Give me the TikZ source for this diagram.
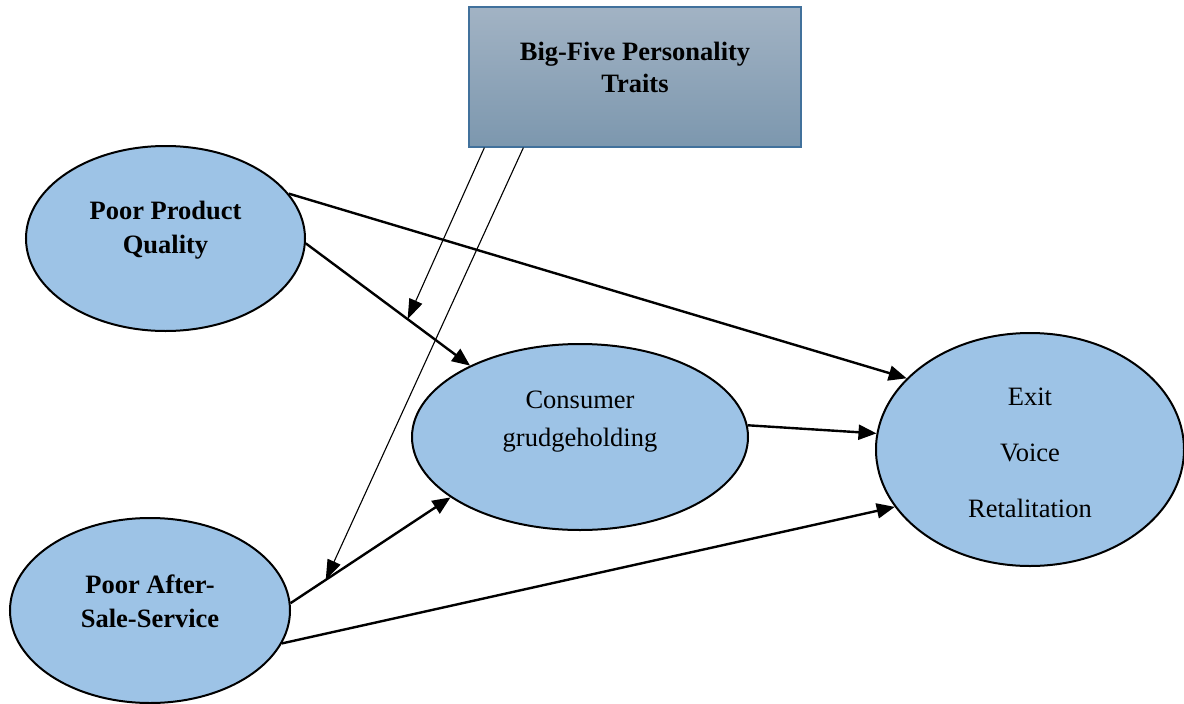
\documentclass[tikz,border=0pt]{standalone}
\usepackage{fontspec}
\setmainfont{Liberation Serif}
\usetikzlibrary{arrows.meta,shapes.geometric}
\definecolor{blobblue}{HTML}{9DC3E6}
\definecolor{boxtop}{HTML}{A2B3C4}
\definecolor{boxbot}{HTML}{7C97AE}
\definecolor{boxline}{HTML}{41719C}
\newcommand{\bigfont}[1]{\fontsize{26.5}{#1}\selectfont}

\begin{document}
\begin{tikzpicture}[x=1pt,y=-1pt,
  blob/.style={ellipse,draw=black,line width=2pt,fill=blobblue,inner sep=0pt},
  pbox/.style={rectangle,draw=boxline,line width=1.2pt,top color=boxtop,bottom color=boxbot,
    minimum width=332pt,minimum height=140pt,inner sep=0pt},
  lbl/.style={align=center},
  link/.style={-{Triangle[length=18pt,width=15pt]},line width=2.4pt},
  mod/.style={-{Triangle[length=20pt,width=14pt]},line width=1.1pt}]
\useasboundingbox (0,0) rectangle (1184,704);
% \draw[help lines,step=100] (0,0) grid (1184,704);
\node (bf) [pbox] at (635,77)
  [label={[lbl,font=\bigfont{32}\bfseries,yshift=10pt]center:{Big-Five Personality\\Traits}}] {};
\node (ppq) [blob,minimum width=279pt,minimum height=185pt] at (165.5,238.5)
  [label={[lbl,font=\bigfont{34}\bfseries,yshift=8pt]center:{Poor Product\\Quality}}] {};
\node (pass) [blob,minimum width=280pt,minimum height=185pt] at (150,610.5)
  [label={[lbl,font=\bigfont{34}\bfseries,yshift=9.5pt]center:{Poor After-\\Sale-Service}}] {};
\node (cg) [blob,minimum width=336pt,minimum height=186pt] at (580,437)
  [label={[lbl,font=\bigfont{38},yshift=15pt]center:{Consumer\\grudgeholding}}] {};
\node (exit) [blob,minimum width=308pt,minimum height=233pt] at (1030,449.5)
  [label={[lbl,font=\bigfont{56},yshift=-3.5pt]center:{Exit\\Voice\\Retalitation}}] {};
%
\draw[link] (ppq.20) -- (exit.150);
\draw[link] (ppq.358) -- coordinate[pos=0.62] (m1) (cg.147);
\draw[link] (cg.4) -- (exit.174);
\draw[link] (pass.346) -- (exit.203);
\draw[link] (pass.3) -- coordinate[pos=0.22] (m2) (cg.205);
%
\draw[mod] ([xshift=16pt]bf.south west) -- (m1);
\draw[mod] ([xshift=55pt]bf.south west) -- (m2);
\end{tikzpicture}
\end{document}
